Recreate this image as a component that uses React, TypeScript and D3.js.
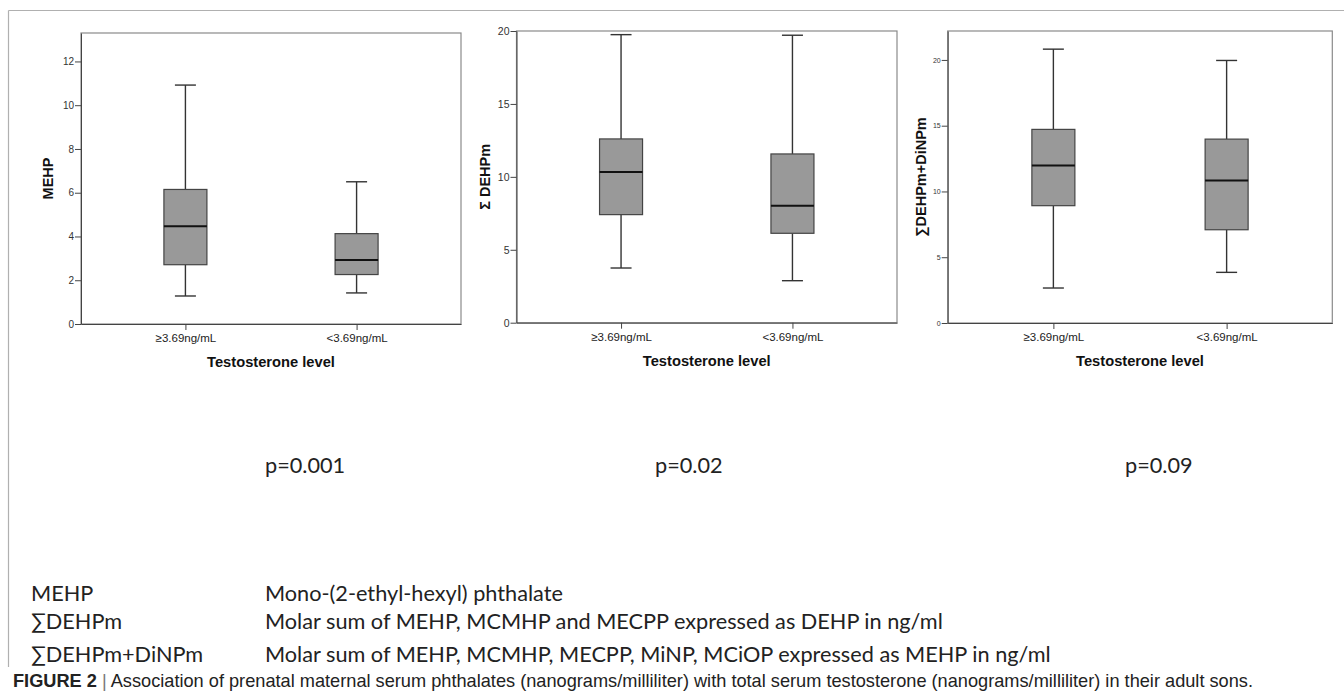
import React, { useEffect, useRef } from 'react';
import * as d3 from 'd3';

const width = 1344;
const height = 693;

// testosterone groups on the x axis
const groups = ['≥3.69ng/mL', '<3.69ng/mL'];

// [lower whisker, Q1, median, Q3, upper whisker] per group
const mehpStats = [[1.28, 2.71, 4.47, 6.15, 10.92], [1.42, 2.26, 2.93, 4.13, 6.5]];
const dehpStats = [[3.75, 7.41, 10.34, 12.6, 19.75], [2.88, 6.13, 8.02, 11.57, 19.71]];
const dinpStats = [[2.66, 8.92, 11.98, 14.72, 20.82], [3.85, 7.09, 10.84, 13.98, 19.96]];

const yMaxes = [13.3, 20, 22.2];
const yTicks = [[0, 2, 4, 6, 8, 10, 12], [0, 5, 10, 15, 20], [0, 5, 10, 15, 20]];
const yTitles = ['MEHP', 'Σ DEHPm', '∑DEHPm+DiNPm'];
const xTitle = 'Testosterone level';

const pValues = ['p=0.001', 'p=0.02', 'p=0.09'];
const abbreviations = ['MEHP', '∑DEHPm', '∑DEHPm+DiNPm'];
const definitions = [
  'Mono-(2-ethyl-hexyl) phthalate',
  'Molar sum of MEHP, MCMHP and MECPP expressed as DEHP in ng/ml',
  'Molar sum of MEHP, MCMHP, MECPP, MiNP, MCiOP expressed as MEHP in ng/ml',
];
const captionHead = 'FIGURE 2';
const captionText =
  'Association of prenatal maternal serum phthalates (nanograms/milliliter) with total serum testosterone (nanograms/milliliter) in their adult sons.';

// plot rectangles of the three SPSS panels
const panels = [
  { x0: 81, x1: 461, y0: 33, y1: 324, tickFont: 10, titleX: 48, stats: mehpStats },
  { x0: 516.5, x1: 897, y0: 31, y1: 322.7, tickFont: 10.5, titleX: 485, stats: dehpStats },
  { x0: 947.7, x1: 1332.3, y0: 31, y1: 323, tickFont: 7, titleX: 921, stats: dinpStats },
];

const spssFont = '"Liberation Sans", Arial, sans-serif';
const noteFont = 'Lato, "Open Sans", sans-serif';
const noteSize = 21.7;

const BoxPanel = ({ p, i }) => {
  const yRef = useRef(null);
  const xRef = useRef(null);
  const x = d3.scalePoint().domain(groups).range([p.x0, p.x1]).padding(0.61);
  const y = d3.scaleLinear().domain([0, yMaxes[i]]).range([p.y1, p.y0]);

  useEffect(() => {
    const ya = d3.select(yRef.current);
    ya.selectAll('*').remove();
    ya.call(d3.axisLeft(y).tickValues(yTicks[i]).tickSize(6).tickPadding(1).tickSizeOuter(0));
    ya.select('.domain').attr('stroke', '#444');
    ya.selectAll('.tick line').attr('stroke', '#444');
    ya.selectAll('.tick text')
      .attr('fill', '#333')
      .style('font-family', spssFont)
      .style('font-size', p.tickFont + 'px');

    const xa = d3.select(xRef.current);
    xa.selectAll('*').remove();
    xa.call(d3.axisBottom(x).tickSize(6).tickPadding(4).tickSizeOuter(0));
    xa.select('.domain').attr('stroke', '#444');
    xa.selectAll('.tick line').attr('stroke', '#444');
    xa.selectAll('.tick text')
      .attr('fill', '#222')
      .style('font-family', spssFont)
      .style('font-size', '11.5px');
  }, []);

  const bw = 43;
  const cap = 21;
  return (
    <g>
      <rect x={p.x0} y={p.y0} width={p.x1 - p.x0} height={p.y1 - p.y0} fill="none" stroke="#8a8a8a" strokeWidth={1.2} />
      {p.stats.map((s, k) => {
        const cx = x(groups[k]);
        return (
          <g key={k}>
            <line x1={cx} x2={cx} y1={y(s[4])} y2={y(s[3])} stroke="#333" strokeWidth={1.4} />
            <line x1={cx} x2={cx} y1={y(s[1])} y2={y(s[0])} stroke="#333" strokeWidth={1.4} />
            <line x1={cx - cap / 2} x2={cx + cap / 2} y1={y(s[4])} y2={y(s[4])} stroke="#333" strokeWidth={1.4} />
            <line x1={cx - cap / 2} x2={cx + cap / 2} y1={y(s[0])} y2={y(s[0])} stroke="#333" strokeWidth={1.4} />
            <rect x={cx - bw / 2} y={y(s[3])} width={bw} height={y(s[1]) - y(s[3])} fill="#999" stroke="#444" strokeWidth={1.2} />
            <line x1={cx - bw / 2} x2={cx + bw / 2} y1={y(s[2])} y2={y(s[2])} stroke="#111" strokeWidth={2} />
          </g>
        );
      })}
      <g ref={yRef} transform={`translate(${p.x0},0)`} />
      <g ref={xRef} transform={`translate(0,${p.y1})`} />
      <text
        transform={`translate(${p.titleX},${(p.y0 + p.y1) / 2}) rotate(-90)`}
        textAnchor="middle"
        dy="0.35em"
        fontFamily={spssFont}
        fontWeight="bold"
        fontSize={14.5}
        fill="#111"
      >
        {yTitles[i]}
      </text>
      <text
        x={(p.x0 + p.x1) / 2}
        y={p.y1 + 38}
        textAnchor="middle"
        dy="0.35em"
        fontFamily={spssFont}
        fontWeight="bold"
        fontSize={14.7}
        fill="#111"
      >
        {xTitle}
      </text>
    </g>
  );
};

const pX = [265, 655, 1125];
const rowY = [593, 621, 654];

export default function App() {
  return (
    <svg width={width} height={height} style={{ position: 'absolute', left: 0, top: 0, background: '#fff' }}>
      <line x1={8.5} x2={width} y1={10.5} y2={10.5} stroke="#b0b0b0" strokeWidth={1.2} />
      <line x1={8.5} x2={8.5} y1={10.5} y2={667} stroke="#b0b0b0" strokeWidth={1.2} />
      {panels.map((p, i) => (
        <BoxPanel key={i} p={p} i={i} />
      ))}
      {pValues.map((t, i) => (
        <text key={t} x={pX[i]} y={465} dy="0.35em" fontFamily={noteFont} fontSize={noteSize} fill="#222">
          {t}
        </text>
      ))}
      {abbreviations.map((a, i) => (
        <g key={a}>
          <text x={31} y={rowY[i]} dy="0.35em" fontFamily={noteFont} fontSize={noteSize} fill="#222">
            {a}
          </text>
          <text x={265} y={rowY[i]} dy="0.35em" fontFamily={noteFont} fontSize={noteSize} fill="#222">
            {definitions[i]}
          </text>
        </g>
      ))}
      <text x={13} y={681} dy="0.35em" fontFamily='"Liberation Sans Narrow", "Arial Narrow", sans-serif' fontSize={18.2} fill="#222">
        <tspan fontWeight="bold">{captionHead}</tspan>
        <tspan fill="#777"> | </tspan>
        <tspan>{captionText}</tspan>
      </text>
    </svg>
  );
}
